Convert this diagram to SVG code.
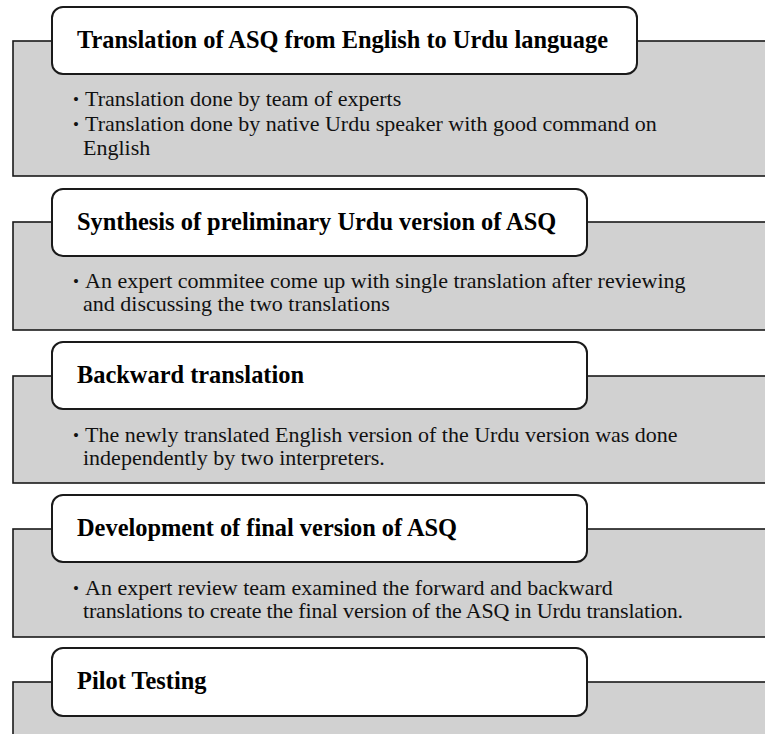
<svg xmlns="http://www.w3.org/2000/svg" width="765" height="734" viewBox="0 0 765 734">
<style>
.panel{fill:#d1d1d1;stroke:#1a1a1a;stroke-width:1.6}
.head{fill:#ffffff;stroke:#1a1a1a;stroke-width:2}
.title{font-family:"Liberation Serif","Times New Roman",serif;font-weight:bold;font-size:24.4px;fill:#000}
.body{font-family:"Liberation Serif","Times New Roman",serif;font-size:22px;fill:#111}
.bul{font-family:"Liberation Serif","Times New Roman",serif;font-size:17px;fill:#111}
</style>
<rect width="765" height="734" fill="#ffffff"/>
<g id="connectors"></g>
<g id="step1">
<rect class="panel" x="13" y="41" width="760" height="135"/>
<rect class="head" x="52" y="7" width="585" height="67" rx="11"/>
<text class="title" x="77" y="48">Translation of ASQ from English to Urdu language</text>
<text class="bul" x="73" y="105">•</text>
<text class="body" x="85" y="106">Translation done by team of experts</text>
<text class="bul" x="73" y="130">•</text>
<text class="body" x="85" y="131">Translation done by native Urdu speaker with good command on</text>
<text class="body" x="83" y="155">English</text>
</g>
<g id="step2">
<rect class="panel" x="13" y="222" width="760" height="108"/>
<rect class="head" x="52" y="189" width="535" height="67" rx="11"/>
<text class="title" x="77" y="230">Synthesis of preliminary Urdu version of ASQ</text>
<text class="bul" x="73" y="287">•</text>
<text class="body" x="85" y="288">An expert commitee come up with single translation after reviewing</text>
<text class="body" x="83" y="311">and discussing the two translations</text>
</g>
<g id="step3">
<rect class="panel" x="13" y="376" width="760" height="107"/>
<rect class="head" x="52" y="342" width="535" height="67" rx="11"/>
<text class="title" x="77" y="383">Backward translation</text>
<text class="bul" x="73" y="441">•</text>
<text class="body" x="85" y="442">The newly translated English version of the Urdu version was done</text>
<text class="body" x="83" y="465">independently by two interpreters.</text>
</g>
<g id="step4">
<rect class="panel" x="13" y="529" width="760" height="108"/>
<rect class="head" x="52" y="495" width="535" height="67" rx="11"/>
<text class="title" x="77" y="536">Development of final version of ASQ</text>
<text class="bul" x="73" y="594">•</text>
<text class="body" x="85" y="595">An expert review team examined the forward and backward</text>
<text class="body" x="83" y="618" textLength="600" lengthAdjust="spacing">translations to create the final version of the ASQ in Urdu translation.</text>
</g>
<g id="step5">
<rect class="panel" x="13" y="682" width="760" height="70"/>
<rect class="head" x="52" y="648" width="535" height="68" rx="11"/>
<text class="title" x="77" y="689">Pilot Testing</text>
</g>
</svg>
